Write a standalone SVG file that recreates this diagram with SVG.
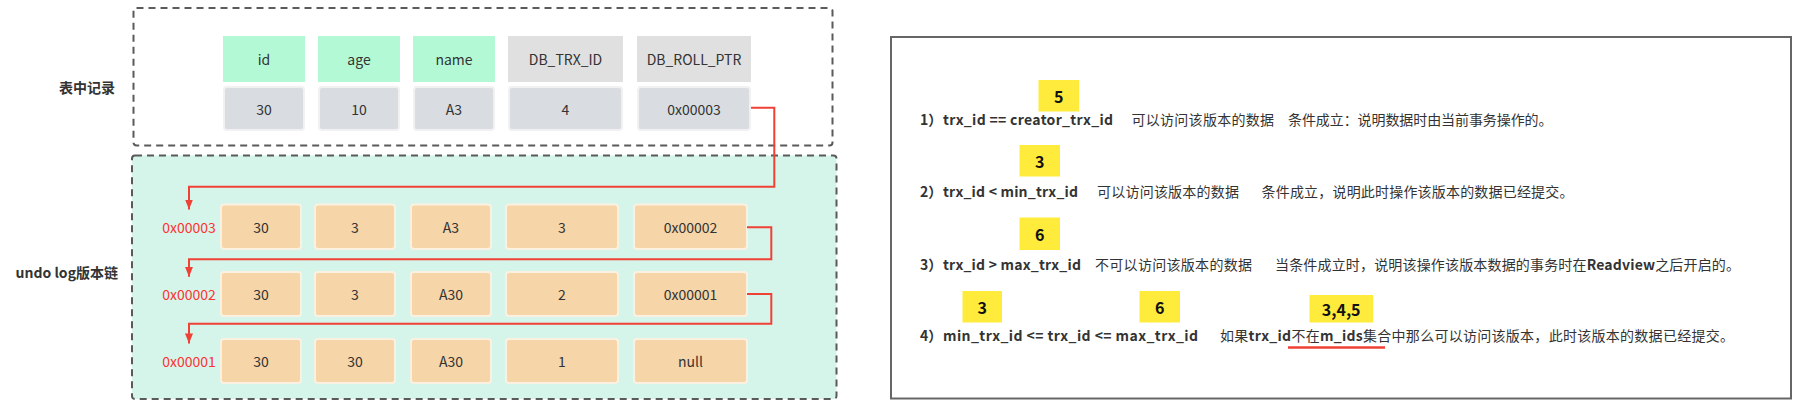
<svg xmlns="http://www.w3.org/2000/svg" width="1801" height="405" viewBox="0 0 1801 405">
<style>
text{font-family:"Noto Sans CJK SC","Liberation Sans",sans-serif;}
.lbl{font-size:14px;fill:#333;font-weight:bold;text-anchor:end;dominant-baseline:central;}
.ct{font-size:14px;fill:#333;text-anchor:middle;dominant-baseline:central;}
.addr{font-size:14px;fill:#ff3333;text-anchor:middle;dominant-baseline:central;}
.hg{fill:#b3f9d5;}
.hd{fill:#e0e0e0;}
.vg{fill:#d9dde1;stroke:#f1f1f1;stroke-width:2;}
.uc{fill:#f6d5a8;stroke:#fbf1e2;stroke-width:2;}
.dash{stroke:#5a5a5a;stroke-width:2;stroke-dasharray:7 5;}
.conn{fill:none;stroke:#ef4136;stroke-width:2;}
.rt{font-size:14px;fill:#333;dominant-baseline:central;}
.b{font-weight:bold;}
.badge{fill:#ffeb3b;}
.bt{font-size:16px;font-weight:bold;fill:#111;text-anchor:middle;dominant-baseline:central;}
</style>
<defs>
<marker id="arr" markerUnits="userSpaceOnUse" markerWidth="10" markerHeight="10" viewBox="0 0 10 8" refX="10" refY="4" orient="auto">
<path d="M0,0 L10,4 L0,8 z" fill="#ef4136"/>
</marker>
</defs>
<rect width="1801" height="405" fill="#ffffff"/>

<g id="table-box">
<rect x="133.5" y="8" width="699" height="137.5" rx="3" fill="#ffffff" class="dash"/>
<text class="lbl" x="115" y="87">表中记录</text>
</g>
<g id="undo-box">
<rect x="132" y="155.5" width="704.5" height="243.5" rx="3" fill="#d5f5ea" class="dash"/>
<text class="lbl" x="118" y="272">undo log版本链</text>
</g>

<g id="header-row">
<g id="h-id"><rect class="hg" x="223" y="36" width="82" height="46"/><text class="ct" x="264" y="59">id</text></g>
<g id="h-age"><rect class="hg" x="318" y="36" width="82" height="46"/><text class="ct" x="359" y="59">age</text></g>
<g id="h-name"><rect class="hg" x="413" y="36" width="82" height="46"/><text class="ct" x="454" y="59">name</text></g>
<g id="h-trx"><rect class="hd" x="508" y="36" width="115" height="46"/><text class="ct" x="565.5" y="59">DB_TRX_ID</text></g>
<g id="h-roll"><rect class="hd" x="637" y="36" width="114" height="46"/><text class="ct" x="694" y="59">DB_ROLL_PTR</text></g>
</g>

<g id="value-row">
<g id="v-id"><rect class="vg" x="224" y="87" width="80" height="43" rx="3"/><text class="ct" x="264" y="108.5">30</text></g>
<g id="v-age"><rect class="vg" x="319" y="87" width="80" height="43" rx="3"/><text class="ct" x="359" y="108.5">10</text></g>
<g id="v-name"><rect class="vg" x="414" y="87" width="80" height="43" rx="3"/><text class="ct" x="454" y="108.5">A3</text></g>
<g id="v-trx"><rect class="vg" x="509" y="87" width="113" height="43" rx="3"/><text class="ct" x="565.5" y="108.5">4</text></g>
<g id="v-roll"><rect class="vg" x="638" y="87" width="112" height="43" rx="3"/><text class="ct" x="694" y="108.5">0x00003</text></g>
</g>

<g id="undo-row-1">
<text class="addr" x="189" y="227">0x00003</text>
<rect class="uc" x="221" y="204.5" width="80" height="44.5" rx="3"/><text class="ct" x="261" y="227">30</text>
<rect class="uc" x="315" y="204.5" width="80" height="44.5" rx="3"/><text class="ct" x="355" y="227">3</text>
<rect class="uc" x="411" y="204.5" width="80" height="44.5" rx="3"/><text class="ct" x="451" y="227">A3</text>
<rect class="uc" x="506" y="204.5" width="112" height="44.5" rx="3"/><text class="ct" x="562" y="227">3</text>
<rect class="uc" x="634" y="204.5" width="113" height="44.5" rx="3"/><text class="ct" x="690.5" y="227">0x00002</text>
</g>
<g id="undo-row-2">
<text class="addr" x="189" y="294">0x00002</text>
<rect class="uc" x="221" y="272" width="80" height="44" rx="3"/><text class="ct" x="261" y="294">30</text>
<rect class="uc" x="315" y="272" width="80" height="44" rx="3"/><text class="ct" x="355" y="294">3</text>
<rect class="uc" x="411" y="272" width="80" height="44" rx="3"/><text class="ct" x="451" y="294">A30</text>
<rect class="uc" x="506" y="272" width="112" height="44" rx="3"/><text class="ct" x="562" y="294">2</text>
<rect class="uc" x="634" y="272" width="113" height="44" rx="3"/><text class="ct" x="690.5" y="294">0x00001</text>
</g>
<g id="undo-row-3">
<text class="addr" x="189" y="361">0x00001</text>
<rect class="uc" x="221" y="339" width="80" height="44" rx="3"/><text class="ct" x="261" y="361">30</text>
<rect class="uc" x="315" y="339" width="80" height="44" rx="3"/><text class="ct" x="355" y="361">30</text>
<rect class="uc" x="411" y="339" width="80" height="44" rx="3"/><text class="ct" x="451" y="361">A30</text>
<rect class="uc" x="506" y="339" width="112" height="44" rx="3"/><text class="ct" x="562" y="361">1</text>
<rect class="uc" x="634" y="339" width="113" height="44" rx="3"/><text class="ct" x="690.5" y="361">null</text>
</g>

<g id="connectors">
<path class="conn" d="M751 107.7 H774.3 V186.7 H189 V209.5" marker-end="url(#arr)"/>
<path class="conn" d="M747 227.3 H771.3 V259.3 H189 V276.8" marker-end="url(#arr)"/>
<path class="conn" d="M747 294 H771.3 V323.7 H189 V343.4" marker-end="url(#arr)"/>
</g>

<g id="rules-box">
<rect x="891" y="37" width="900" height="361.5" fill="#ffffff" stroke="#666666" stroke-width="2"/>

<g id="rule-1">
<rect class="badge" x="1038.5" y="80" width="40.5" height="31.5"/><text class="bt" x="1058.7" y="96">5</text>
<text class="rt b" x="920" y="119">1）</text>
<text class="rt b" x="943" y="119" textLength="170" lengthAdjust="spacing">trx_id == creator_trx_id</text>
<text class="rt" x="1131.5" y="119" textLength="142.5" lengthAdjust="spacing">可以访问该版本的数据</text>
<text class="rt" x="1288" y="119" textLength="264.5" lengthAdjust="spacing">条件成立：说明数据时由当前事务操作的。</text>
</g>
<g id="rule-2">
<rect class="badge" x="1019.5" y="145" width="40.5" height="31.5"/><text class="bt" x="1039.7" y="161">3</text>
<text class="rt b" x="920" y="191">2）</text>
<text class="rt b" x="943" y="191" textLength="135" lengthAdjust="spacing">trx_id &lt; min_trx_id</text>
<text class="rt" x="1097" y="191" textLength="142" lengthAdjust="spacing">可以访问该版本的数据</text>
<text class="rt" x="1261.5" y="191" textLength="312" lengthAdjust="spacing">条件成立，说明此时操作该版本的数据已经提交。</text>
</g>
<g id="rule-3">
<rect class="badge" x="1019.5" y="217.5" width="40.5" height="32.5"/><text class="bt" x="1039.7" y="233.5">6</text>
<text class="rt b" x="920" y="263.5">3）</text>
<text class="rt b" x="943" y="263.5" textLength="138" lengthAdjust="spacing">trx_id &gt; max_trx_id</text>
<text class="rt" x="1095" y="263.5" textLength="157" lengthAdjust="spacing">不可以访问该版本的数据</text>
<text class="rt" x="1275" y="263.5" textLength="465" lengthAdjust="spacing">当条件成立时，说明该操作该版本数据的事务时在<tspan class="b">Readview</tspan>之后开启的。</text>
</g>
<g id="rule-4">
<rect class="badge" x="962.5" y="291" width="39.5" height="31.5"/><text class="bt" x="982.2" y="307">3</text>
<rect class="badge" x="1139.5" y="291" width="40.5" height="31.5"/><text class="bt" x="1159.7" y="307">6</text>
<rect class="badge" x="1309.5" y="295" width="63.5" height="27.5"/><text class="bt" x="1341.2" y="309">3,4,5</text>
<text class="rt b" x="920" y="335">4）</text>
<text class="rt b" x="943" y="335" textLength="255" lengthAdjust="spacing">min_trx_id &lt;= trx_id &lt;= max_trx_id</text>
<text class="rt" x="1220" y="335" textLength="514" lengthAdjust="spacing">如果<tspan class="b">trx_id</tspan>不在<tspan class="b">m_ids</tspan>集合中那么可以访问该版本，此时该版本的数据已经提交。</text>
<line x1="1288" y1="347.5" x2="1385" y2="347.5" stroke="#ef4136" stroke-width="2.5"/>
</g>
</g>
</svg>
